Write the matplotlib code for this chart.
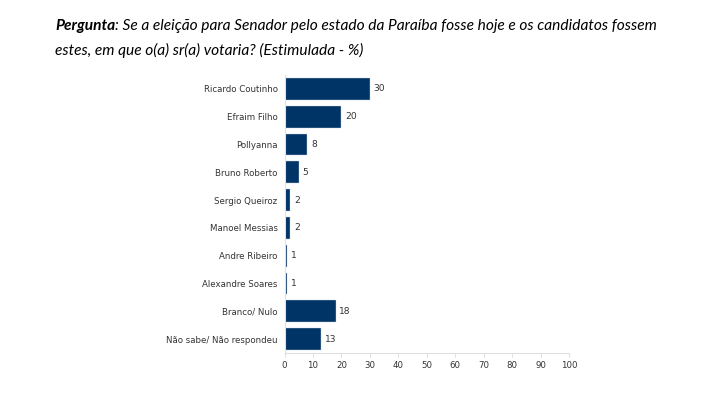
import matplotlib.pyplot as plt

candidates = [
    "Ricardo Coutinho",
    "Efraim Filho",
    "Pollyanna",
    "Bruno Roberto",
    "Sergio Queiroz",
    "Manoel Messias",
    "Andre Ribeiro",
    "Alexandre Soares",
    "Branco/ Nulo",
    "Não sabe/ Não respondeu",
]
values = [30, 20, 8, 5, 2, 2, 1, 1, 18, 13]
x_ticks = list(range(0, 101, 10))

bar_color = "#003366"
grid_color = "#e0e0e0"
text_color = "#333333"
fs = 6.2

fig = plt.figure(figsize=(7.23, 3.93), dpi=100)
ax = fig.add_axes([0.3935, 0.102, 0.3935, 0.707])

pos = list(range(len(candidates)))
ax.barh(pos, values, height=0.78, color=bar_color, edgecolor="#c8d4e3", linewidth=0.3)
ax.set_ylim(len(candidates) - 0.5, -0.5)
ax.set_xlim(0, 100)

for p, v in zip(pos, values):
    ax.text(v + 1.3, p, str(v), va="center", ha="left", fontsize=fs + 0.4, color=text_color)

ax.set_yticks(pos)
ax.set_yticklabels(candidates, fontsize=fs, color=text_color)
ax.set_xticks(x_ticks)
ax.set_xticklabels([str(t) for t in x_ticks], fontsize=fs, color=text_color)

ax.tick_params(axis="y", length=0, pad=5)
ax.tick_params(axis="x", length=3, color=grid_color, pad=3)
for side in ["top", "right"]:
    ax.spines[side].set_visible(False)
for side in ["left", "bottom"]:
    ax.spines[side].set_color(grid_color)
    ax.spines[side].set_linewidth(0.8)

# title: bold italic "Pergunta" then the rest in italic
t1 = fig.text(55 / 723, 1 - 33 / 393, "Pergunta", fontsize=11.2, fontweight="bold",
              fontstyle="italic", family="Lato", color="black", va="bottom")
ax.annotate(": Se a eleição para Senador pelo estado da Paraíba fosse hoje e os candidatos fossem",
            xy=(1, 0), xycoords=t1, va="bottom", ha="left", fontsize=11.2,
            fontstyle="italic", family="Lato", color="black", annotation_clip=False)
fig.text(55 / 723, 1 - 58 / 393, "estes, em que o(a) sr(a) votaria? (Estimulada - %)",
         fontsize=11.2, fontstyle="italic", family="Lato", color="black", va="bottom")

fig.savefig("out.png", dpi=100)
